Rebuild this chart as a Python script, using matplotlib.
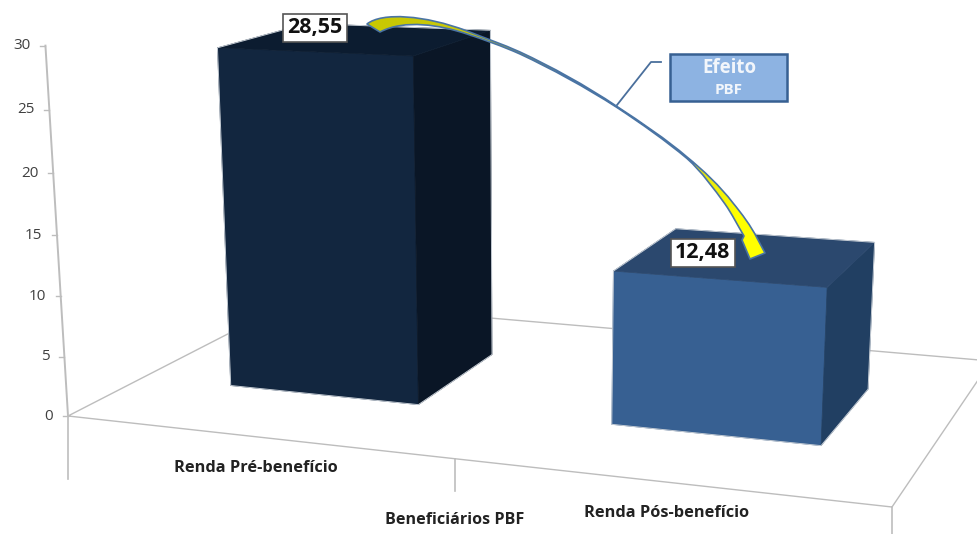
import numpy as np
import matplotlib
matplotlib.use("Agg")
import matplotlib.pyplot as plt
from matplotlib.colors import LinearSegmentedColormap
from matplotlib.patches import PathPatch, Polygon, Rectangle
from matplotlib.path import Path

plt.rcParams["font.family"] = ["Open Sans", "DejaVu Sans"]

# Chart data
categories = ["Renda Pré-benefício", "Renda Pós-benefício"]
values = [28.55, 12.48]
y_ticks = [0, 5, 10, 15, 20, 25, 30]
axis_title = "Beneficiários PBF"
callout_lines = ["Efeito", "PBF"]

# Perspective camera: floor (u, w) in 0..1, height in value units
HOMOGRAPHY = np.array([
    [706.97, 281.64, 68.0],
    [24.48, -55.58, 416.0],
    [-0.1312, 0.19741, 1.0],
])
LIFT = -0.001552 * np.array([530.0, 8000.0, 1.0])


def project(u, w, v=0.0):
    p = HOMOGRAPHY @ np.array([u, w, 1.0]) + v * LIFT
    return p[0] / p[2], p[1] / p[2]


# Bar footprints on the floor
bar_u = [(0.124, 0.381), (0.629, 0.880)]
bar_w = (0.302, 0.705)
bar_colors = [
    {"front": "#12263f", "top": "#0c1c30", "side": "#0a1626"},
    {"front": "#376092", "top": "#2b486e", "side": "#213f62"},
]
GRID = "#bdbdbd"
TEXT_GREY = "#404040"

fig = plt.figure(figsize=(9.78, 5.34), dpi=100)
ax = fig.add_axes([0, 0, 1, 1])
ax.axis("off")

# Floor outline
floor = [project(0, 0), project(1, 0), project(1, 1), project(0, 1)]
ax.add_patch(Polygon(floor, closed=True, fill=False, edgecolor=GRID, lw=1, zorder=1))

# Value axis and ticks
ax.plot(*zip(project(0, 0, 0), project(0, 0, 30)), color=GRID, lw=1.4, zorder=1)
for tick in y_ticks:
    x, y = project(0, 0, tick)
    ax.plot([x - 5, x], [y, y], color=GRID, lw=1, zorder=1)
    ax.text(x - 15, y, str(tick), ha="right", va="center", fontsize=11, color=TEXT_GREY)

# Drop lines under the front edge of the floor
for u, drop in [(0, 63), (0.505, 32), (1, 40)]:
    x, y = project(u, 0)
    ax.plot([x, x], [y, y + drop], color=GRID, lw=1.2, zorder=1)

# Bars
for (u0, u1), value, colors in zip(bar_u, values, bar_colors):
    w0, w1 = bar_w
    front = [project(u0, w0), project(u1, w0), project(u1, w0, value), project(u0, w0, value)]
    side = [project(u1, w0), project(u1, w1), project(u1, w1, value), project(u1, w0, value)]
    top = [project(u0, w0, value), project(u1, w0, value), project(u1, w1, value), project(u0, w1, value)]
    for pts, key in [(front, "front"), (side, "side"), (top, "top")]:
        ax.add_patch(Polygon(pts, closed=True, facecolor=colors[key], edgecolor=colors[key], lw=0.5, zorder=2))
    outline = [front[0], front[1], side[1], side[2], top[3], top[0]]
    ax.add_patch(Polygon(outline, closed=True, fill=False, edgecolor="#c5ccd4", lw=0.7, zorder=3))

# Curved arrow from the first bar down to the second
arrow_verts = [
    (367, 24),
    (382, 12), (425, 15), (467, 31),
    (485, 38), (502, 44), (520, 52),
    (552, 67), (585, 85), (617, 106.5),
    (642, 123), (666, 139), (687, 157),
    (703, 170), (720, 186), (733, 203),
    (742, 214), (751, 226), (757, 238),
    (765, 253), (750, 259), (742, 240), (744, 236),
    (738, 226), (732, 214), (725, 204),
    (714, 189), (702, 172), (687, 158.5),
    (666, 141), (642, 124), (617, 107.5),
    (585, 87), (552, 69), (520, 54),
    (502, 46), (485, 40), (467, 34),
    (440, 25), (405, 19), (380, 32),
    (367, 24),
]
arrow_codes = ([Path.MOVETO] + [Path.CURVE4] * 18 + [Path.LINETO] * 4
               + [Path.CURVE4] * 18 + [Path.CLOSEPOLY])
arrow = PathPatch(Path(arrow_verts, arrow_codes), facecolor="none", edgecolor="#4a74a4", lw=1.2,
                  joinstyle="round", zorder=5)
ax.add_patch(arrow)
yellow = LinearSegmentedColormap.from_list(
    "arrow", [(0, "#c8c800"), (0.75, "#c8c820"), (0.92, "#ffff00"), (1, "#ffff00")])
gradient = ax.imshow(np.linspace(0, 1, 256).reshape(1, -1), cmap=yellow, extent=(360, 770, 265, 10),
                     aspect="auto", zorder=4)
gradient.set_clip_path(arrow)

# Value labels
label_centers = [(315, 28), (702.5, 252.5)]
for value, (cx, cy) in zip(values, label_centers):
    ax.add_patch(Rectangle((cx - 32, cy - 14), 64, 28, facecolor="white", edgecolor="#555555", lw=1.2, zorder=6))
    ax.text(cx, cy, f"{value:.2f}".replace(".", ","), ha="center", va="center",
            fontsize=15.5, fontweight="bold", color="#111111", zorder=7)

# Callout box and leader line
ax.plot([661, 651, 617], [62, 62, 105], color="#4a6f9c", lw=1.3, zorder=4)
ax.add_patch(Rectangle((670, 54), 117, 47, facecolor="#8db3e2", edgecolor="#376092", lw=1.8, zorder=6))
ax.text(729, 68, callout_lines[0], ha="center", va="center", fontsize=13.5, fontweight="bold", color="#f2f6fb", zorder=7)
ax.text(729, 90, callout_lines[1], ha="center", va="center", fontsize=11, fontweight="bold", color="#f2f6fb", zorder=7)

# Category and axis labels
ax.text(256, 468, categories[0], ha="center", va="center", fontsize=11.8, fontweight="bold", color="#222222")
ax.text(667, 513, categories[1], ha="center", va="center", fontsize=11.8, fontweight="bold", color="#222222")
ax.text(455, 520, axis_title, ha="center", va="center", fontsize=11.6, fontweight="bold", color="#222222")

ax.set_xlim(0, 978)
ax.set_ylim(534, 0)

fig.savefig("out.png", dpi=100)
